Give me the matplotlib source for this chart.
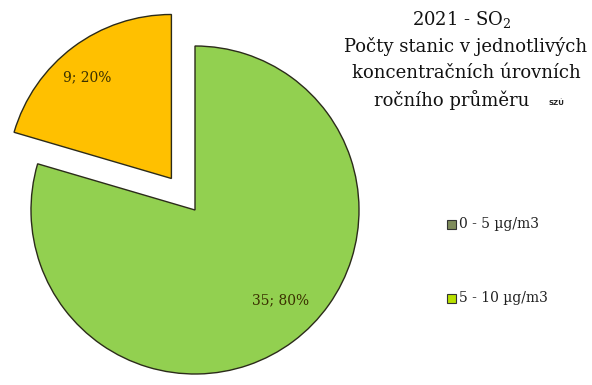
import matplotlib
matplotlib.use("Agg")
import matplotlib.pyplot as plt
from matplotlib.patches import Rectangle

# chart data
categories = ["0 - 5 µg/m3", "5 - 10 µg/m3"]
counts = [35, 9]
slice_colors = ["#92d050", "#ffc000"]
legend_colors = ["#7f8c5c", "#b8e000"]
title_lines = ["2021 - $\\mathregular{SO_2}$", "Počty stanic v jednotlivých",
               "koncentračních úrovních", "ročního průměru"]

W, H = 592, 385
CX, CY, R = 195, 210, 164  # pie centre / radius in pixels

fig = plt.figure(figsize=(W / 100, H / 100), dpi=100)
fig.patch.set_facecolor("white")
ax = fig.add_axes([0, 0, 1, 1])
ax.axis("off")

total = sum(counts)
wedges, texts, autotexts = ax.pie(
    counts, colors=slice_colors, startangle=90, counterclock=False,
    explode=[0, 0.24], radius=1.0, pctdistance=0.78,
    autopct=lambda p: f"{round(p * total / 100)}; {p:.0f}%",
    wedgeprops=dict(edgecolor="#2b2b1a", linewidth=1.0),
    textprops=dict(family="DejaVu Serif", fontsize=10, color="#3a3000"),
    frame=False)
ax.set_xlim(-CX / R, (W - CX) / R)
ax.set_ylim(-(H - CY) / R, CY / R)
ax.set_aspect("auto")

# label spots (pixels)
for t, (px, py) in zip(autotexts, [(281, 300), (87, 77)]):
    t.set_position(((px - CX) / R, (CY - py) / R))

# title block
for line, (x, y) in zip(title_lines, [(462, 20), (466, 47), (466, 73), (452, 100)]):
    fig.text(x / W, 1 - y / H, line, ha="center", va="center",
             family="DejaVu Serif", fontsize=13, color="#111111")
fig.text(556 / W, 1 - 103 / H, "SZÚ", ha="center", va="center",
         family="DejaVu Sans", fontsize=5, fontweight="bold", color="#222222")

# legend
for label, col, y in zip(categories, legend_colors, [224, 298]):
    fig.add_artist(Rectangle((447 / W, 1 - (y + 4.5) / H), 9 / W, 9 / H,
                             transform=fig.transFigure, facecolor=col,
                             edgecolor="#333333", linewidth=0.8))
    fig.text(459 / W, 1 - y / H, label, ha="left", va="center",
             family="DejaVu Serif", fontsize=10, color="#222222")

fig.savefig("out.png", dpi=100, facecolor="white")
